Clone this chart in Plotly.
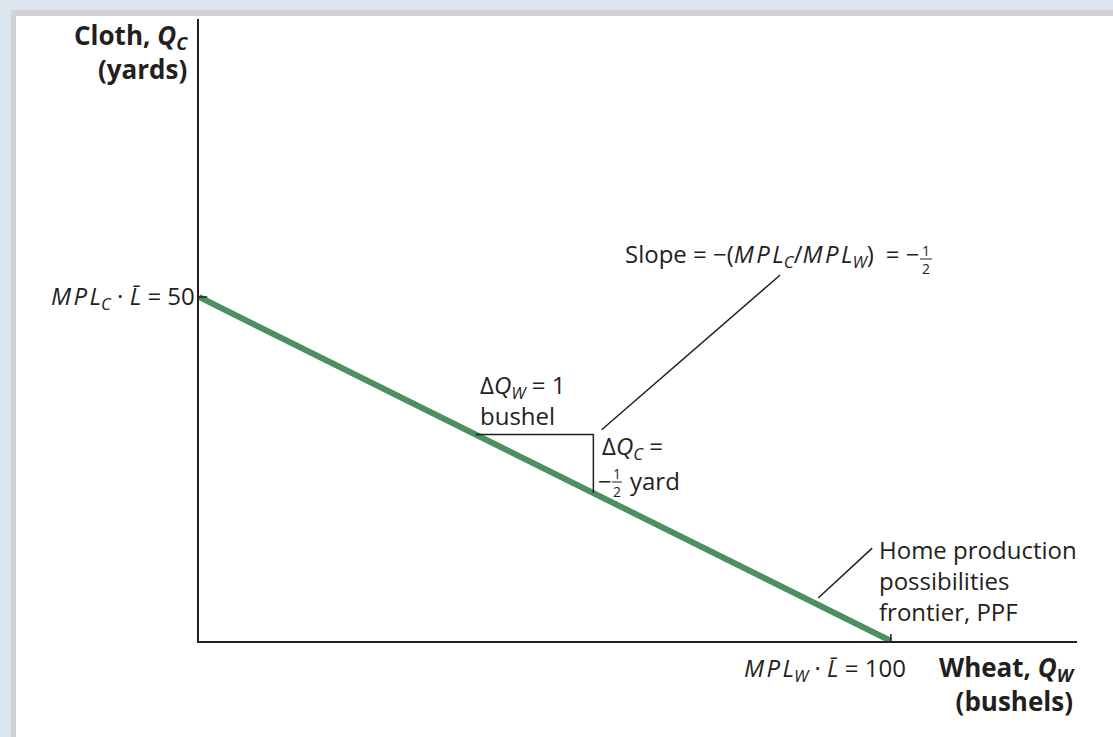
import plotly.graph_objects as go

# ---- data (economic values) ----
ppf_wheat = [0, 100]          # Q_W at the two intercepts
ppf_cloth = [50, 0]           # Q_C at the two intercepts
tri_wheat = [40, 57, 57]      # slope triangle corners (Q_W)
tri_cloth = [30, 30, 21.5]    # slope triangle corners (Q_C)
slope_leader_wheat = [58.2, 84.0]
slope_leader_cloth = [30.7, 53.2]
ppf_leader_wheat = [89.5, 97.3]
ppf_leader_cloth = [6.25, 13.5]
ytick_wheat = [0, 1.2]
ytick_cloth = [50, 50]
xtick_wheat = [100, 100]
xtick_cloth = [0, 1.0]

X_MAX = 126.9
Y_MAX = 90.4

# ---- layout geometry (pixels) ----
W_FIG, H_FIG = 1113, 737
L, R, T, B = 199, 36, 19, 96
PW = W_FIG - L - R
PH = H_FIG - T - B

INK = "#231f20"
GREEN = "#4b8f63"
FONT = "Open Sans"
FS = 24      # regular text size
FB = 26      # bold axis-title size
FF = 14      # fraction digit size
HS = "\u200a"  # hair space used to widen italic MPL
EN = "\u2002"  # en space


def px(x):
    return (x - L) / PW


def py(y):
    return (T + PH - y) / PH


def mpl(sub):
    return f"<i>M{HS}P{HS}L<sub>{sub}</sub></i>"


fig = go.Figure()

fig.add_trace(go.Scatter(x=ppf_wheat, y=ppf_cloth, mode="lines",
                         line=dict(color=GREEN, width=6), hoverinfo="skip"))
for xs, ys in [(tri_wheat, tri_cloth), (slope_leader_wheat, slope_leader_cloth),
               (ppf_leader_wheat, ppf_leader_cloth), (ytick_wheat, ytick_cloth),
               (xtick_wheat, xtick_cloth)]:
    fig.add_trace(go.Scatter(x=xs, y=ys, mode="lines",
                             line=dict(color=INK, width=1.5), hoverinfo="skip"))

annotations = []


def ann(text, x, y, xa="left", size=FS, ya="middle", align="left"):
    annotations.append(dict(text=text, x=px(x), y=py(y), xref="paper", yref="paper",
                            xanchor=xa, yanchor=ya, showarrow=False, align=align,
                            font=dict(family=FONT, size=size, color=INK)))


ann("<b>Cloth, <i>Q<sub>C</sub></i></b><br><b>(yards)</b>", 190, 52, xa="right", size=FB,
    align="right")
ann(f"{mpl('C')} · <i>L̄</i> = 50", 197, 297, xa="right")
ann("Δ<i>Q<sub>W</sub></i> = 1<br>bushel", 478, 400)
ann("Δ<i>Q<sub>C</sub></i> =", 600, 447)
ann("−", 596, 480)
ann("1<br>2", 617, 482, xa="center", size=FF, align="center")
ann("yard", 628, 480)
ann(f"Slope = −({mpl('C')}/{mpl('W')}){EN}= −", 623, 255)
ann("1<br>2", 926, 259, xa="center", size=FF, align="center")
ann("Home production<br>possibilities<br>frontier, PPF", 877, 580)
ann(f"{mpl('W')} · <i>L̄</i> = 100", 742, 669)
ann("<b>Wheat, <i>Q<sub>W</sub></i></b><br><b>(bushels)</b>", 1077, 684, xa="right", size=FB,
    align="right")

shapes = [
    dict(type="rect", xref="paper", yref="paper", x0=px(11), x1=px(1120), y0=py(10), y1=py(745),
         fillcolor="#d2d2d2", line=dict(width=0), layer="below"),
    dict(type="rect", xref="paper", yref="paper", x0=px(16), x1=px(1120), y0=py(16), y1=py(745),
         fillcolor="white", line=dict(width=0), layer="below"),
    dict(type="line", xref="paper", yref="paper", x0=px(612), x1=px(622), y0=py(482), y1=py(482),
         line=dict(color=INK, width=1)),
    dict(type="line", xref="paper", yref="paper", x0=px(920), x1=px(932), y0=py(259), y1=py(259),
         line=dict(color=INK, width=1)),
]

axis_common = dict(showgrid=False, zeroline=False, showticklabels=False, ticks="",
                   showline=True, linecolor=INK, linewidth=1.5, fixedrange=True)

fig.update_layout(
    width=W_FIG, height=H_FIG,
    margin=dict(l=L, r=R, t=T, b=B, pad=0),
    paper_bgcolor="#dce6f1",
    plot_bgcolor="rgba(0,0,0,0)",
    showlegend=False,
    xaxis=dict(range=[0, X_MAX], **axis_common),
    yaxis=dict(range=[0, Y_MAX], **axis_common),
    annotations=annotations,
    shapes=shapes,
)

fig.write_html("out.html", config={"displayModeBar": False},
               post_script="document.body.style.margin='0';document.body.style.overflow='hidden';")
